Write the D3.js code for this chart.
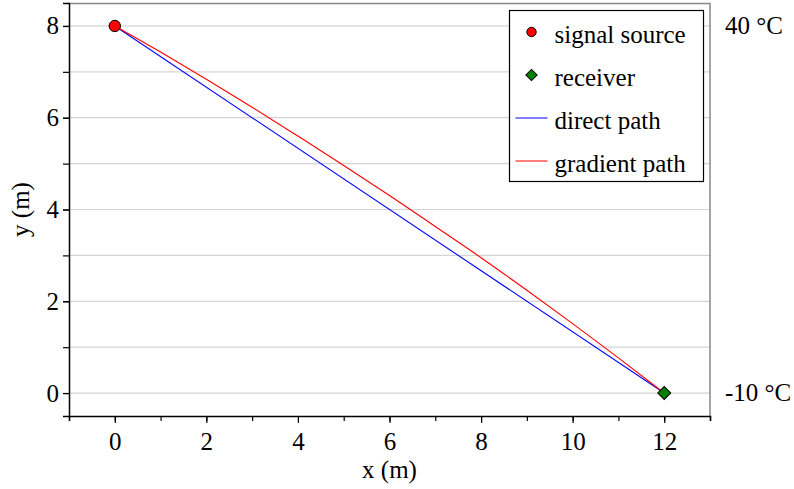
<!DOCTYPE html>
<html lang="en">
<head>
<meta charset="UTF-8">
<title>Signal path</title>
<script src="https://d3js.org/d3.v7.min.js"></script>
<style>
    body { margin: 0; padding: 0; background: #fff; }
    svg { display: block; font-family: 'Liberation Serif', 'Times New Roman', serif; }
    .tick text { font-size: 25px; fill: #000; }
</style>
</head>
<body>
<svg width="794" height="489"></svg>
<script>
    // source / receiver positions (m)
    const sourcePoint = [0, 8];
    const receiverPoint = [12, 0];

    // refracted (gradient) path
    const gradientX = [0, 1, 2, 3, 4, 5, 6, 7, 8, 9, 10, 11, 12];
    const gradientY = [8, 7.43, 6.84, 6.23, 5.6, 4.96, 4.305, 3.63, 2.95, 2.24, 1.513, 0.767, 0];

    const xTicks = [0, 2, 4, 6, 8, 10, 12];
    const yTicks = [0, 2, 4, 6, 8];
    const tempLabels = [{ y: 8, text: "40 °C" }, { y: 0, text: "-10 °C" }];
    const legendItems = ["signal source", "receiver", "direct path", "gradient path"];

    const serif = "'Liberation Serif', 'Times New Roman', serif";
    const margin = { left: 69, right: 84, top: 3, bottom: 73 };
    const width = 794 - margin.left - margin.right;
    const height = 489 - margin.top - margin.bottom;

    const svg = d3.select("svg");
    const g = svg.append("g").attr("transform", `translate(${margin.left},${margin.top})`);

    const x = d3.scaleLinear().domain([-1, 13]).range([0, width]);
    const y = d3.scaleLinear().domain([-0.5, 8.5]).range([height, 0]);

    // horizontal grid
    g.append("g")
        .selectAll("line")
        .data(d3.range(0, 9))
        .join("line")
        .attr("x1", 0).attr("x2", width)
        .attr("y1", d => y(d)).attr("y2", d => y(d))
        .attr("stroke", "#d4d4d4")
        .attr("stroke-width", 1.2);

    // frame top / right
    g.append("path")
        .attr("d", `M0,0.5H${width}V${height}`)
        .attr("fill", "none")
        .attr("stroke", "#888")
        .attr("stroke-width", 1.5);

    // x axis: minor ticks every 1, labels every 2
    const xAxis = g.append("g").attr("transform", `translate(0,${height})`);
    xAxis.call(d3.axisBottom(x).tickValues(d3.range(-1, 14)).tickSize(5).tickFormat(""));
    xAxis.append("g").call(d3.axisBottom(x).tickValues(xTicks).tickSize(7).tickPadding(6).tickFormat(d3.format("d")))
        .select(".domain").remove();

    const yAxis = g.append("g");
    yAxis.call(d3.axisLeft(y).tickValues(d3.range(0, 9)).tickSize(6).tickFormat(""));
    yAxis.append("g").call(d3.axisLeft(y).tickValues(yTicks).tickSize(6).tickPadding(4).tickFormat(d3.format("d")))
        .select(".domain").remove();

    g.selectAll(".domain").attr("stroke", "#000").attr("stroke-width", 1.5);
    g.selectAll(".tick line").attr("stroke", "#000").attr("stroke-width", 1.2);
    g.selectAll(".tick text").attr("font-family", serif).attr("font-size", 25);
    xAxis.selectAll("g").attr("font-family", serif);
    yAxis.selectAll("g").attr("font-family", serif);
    xAxis.selectAll(".tick text").attr("dy", "0.85em");

    // axis titles
    svg.append("text")
        .attr("x", margin.left + x(6)).attr("y", 478)
        .attr("text-anchor", "middle")
        .attr("font-size", 25)
        .text("x (m)");
    svg.append("text")
        .attr("transform", `translate(29,${margin.top + y(4)}) rotate(-90)`)
        .attr("text-anchor", "middle")
        .attr("font-size", 25)
        .text("y (m)");

    const line = d3.line().x(d => x(d[0])).y(d => y(d[1]));

    // direct path
    g.append("path")
        .attr("d", line([sourcePoint, receiverPoint]))
        .attr("fill", "none").attr("stroke", "#0000ff").attr("stroke-width", 1.1);

    // gradient path
    g.append("path")
        .attr("d", line.curve(d3.curveMonotoneX)(gradientX.map((v, i) => [v, gradientY[i]])))
        .attr("fill", "none").attr("stroke", "#ff0000").attr("stroke-width", 1.1);

    // markers
    const diamondSym = d3.symbol().type(d3.symbolSquare);
    g.append("circle")
        .attr("cx", x(sourcePoint[0])).attr("cy", y(sourcePoint[1]))
        .attr("r", 5.7)
        .attr("fill", "#ff0000").attr("stroke", "#000").attr("stroke-width", 1);
    g.append("path")
        .attr("d", diamondSym.size(84)())
        .attr("transform", `translate(${x(receiverPoint[0])},${y(receiverPoint[1])}) rotate(45)`)
        .attr("fill", "#008000").attr("stroke", "#000").attr("stroke-width", 1);

    // temperature labels to the right
    svg.selectAll(".temp")
        .data(tempLabels)
        .join("text")
        .attr("class", "temp")
        .attr("x", 725)
        .attr("y", d => margin.top + y(d.y))
        .attr("dy", "0.33em")
        .attr("font-size", 25)
        .text(d => d.text);

    // legend
    const legend = svg.append("g").attr("transform", "translate(509.5,10.5)");
    legend.append("rect")
        .attr("width", 194).attr("height", 171)
        .attr("fill", "#fff").attr("stroke", "#000").attr("stroke-width", 1.2);
    const rowY = i => 21.5 + i * 43;
    legendItems.forEach((label, i) => {
        const row = legend.append("g").attr("transform", `translate(0,${rowY(i)})`);
        if (i === 0) {
            row.append("circle").attr("cx", 22).attr("cy", 0).attr("r", 4.7)
                .attr("fill", "#ff0000").attr("stroke", "#000").attr("stroke-width", 1);
        } else if (i === 1) {
            row.append("path").attr("d", diamondSym.size(64)())
                .attr("transform", "translate(22,0) rotate(45)")
                .attr("fill", "#008000").attr("stroke", "#000").attr("stroke-width", 1);
        } else {
            row.append("line").attr("x1", 6).attr("x2", 38).attr("y1", 0).attr("y2", 0)
                .attr("stroke", i === 2 ? "#0000ff" : "#ff0000").attr("stroke-width", 1.1);
        }
        row.append("text")
            .attr("x", 45).attr("y", 11)
            .attr("font-size", 25)
            .text(label);
    });
</script>
</body>
</html>
